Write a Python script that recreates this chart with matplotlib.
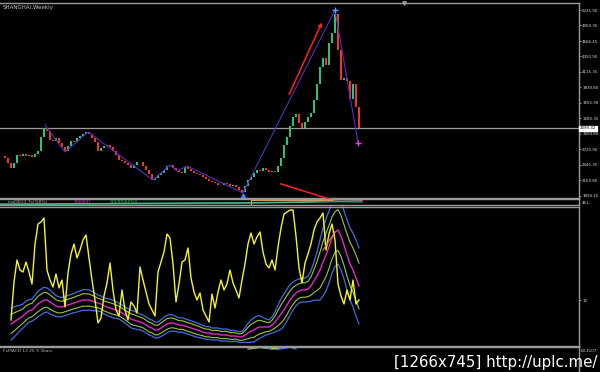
import numpy as np
import matplotlib
matplotlib.use("Agg")
import matplotlib.pyplot as plt
from matplotlib.transforms import blended_transform_factory

# ---------------- data ----------------
closes = [2600, 2568, 2470, 2390, 2480, 2620, 2600, 2640, 2610, 2625,
          2590, 2640, 2690, 2950, 3110, 3060, 2900, 2880, 2920, 2840,
          2760, 2690, 2780, 2880, 2860, 2930, 2960, 2990, 3040, 3000,
          2920, 2850, 2700, 2740, 2790, 2810, 2760, 2700, 2620, 2540,
          2520, 2480, 2450, 2390, 2440, 2500, 2490, 2420, 2350, 2280,
          2180, 2200, 2260, 2290, 2360, 2420, 2440, 2380, 2350, 2320,
          2300, 2400, 2370, 2330, 2300, 2280, 2260, 2230, 2190, 2160,
          2140, 2110, 2085, 2090, 2120, 2100, 2060, 2080, 2040, 1990,
          1960, 2060, 2170, 2220, 2300, 2350, 2330, 2380, 2350, 2320,
          2340, 2310, 2420, 2560, 2800, 2950, 3150, 3300, 3360, 3200,
          3110, 3220, 3300, 3380, 3610, 3900, 4200, 4360, 4240, 4630,
          4810, 5150, 4500, 3970, 4000, 3950, 3620, 3900, 3480, 3100]

price_ticks = [5225.90, 4950.35, 4666.45, 4390.90, 4115.35, 3839.80, 3555.90,
               3280.35, 3004.80, 2720.90, 2445.35, 2169.80, 1894.25]
last_price = 3099.32

zz_x = [14.3, 21, 28.7, 50.3, 56, 58.3, 61.7, 80.3, 111, 118.7]
zz_p = [3161, 2676, 3035, 2173, 2442, 2334, 2424, 1939, 5226, 2837]

nan = np.nan
yellow = [nan, nan, nan, 27, 36.5, 42, 39.5, 39, 41.5, 39,
          36, 46, 51, 51.5, 52.5, 39.5, 37, 35.25, 38.5, 35,
          37, 30.25, 38.75, 43.5, 46, 42.5, 44.5, 47, 48.25, 42.5,
          37, 32, 26.25, 27.5, 33, 36.25, 41.25, 34.5, 29.5, 28,
          34.5, 29.5, 27, 31.5, 30.5, 28.75, 40.25, 37, 34, 31,
          29.5, 28, 39, 41.5, 44, 48.5, 47.5, 41, 31.5, 36,
          41.5, 42, 45, 37.5, 34, 32, 33.75, 29.5, 28, 26.5,
          33.5, 30, 34, 37, 34.5, 36, 39.5, 36.25, 34.5, 32.5,
          37, 41, 46, 48.75, 46, 47.75, 49, 44, 41, 40,
          42, 39.5, 45.25, 50, 53.5, 54, 54.5, 54.5, 48, 40,
          36.25, 41.25, 43.5, 46, 49.5, 51.5, 52.5, 53.75, 44.5, 48.5,
          51, 47, 36, 33, 31, 34.5, 32, 37, 31, 32]

mid = [nan, nan, nan, 26, 26.5, 27, 27.5, 28, 28.75, 29.25,
       29.5, 30.25, 31, 31.5, 32, 32, 31.5, 31, 30.5, 30.25,
       30.25, 30.5, 30.75, 31, 31.25, 31.5, 31.75, 32, 32, 32,
       31.75, 31.5, 31.25, 31, 30.5, 30.25, 30, 29.75, 29.5, 29.25,
       28.75, 28.25, 27.75, 27.25, 27, 26.75, 26.5, 26.25, 25.75, 25.25,
       25, 24.5, 24.5, 25, 25.5, 26, 26.25, 26.25, 26, 25.75,
       25.75, 25.5, 25.25, 25, 24.75, 24.5, 24.25, 24, 23.75, 23.75,
       23.5, 23.5, 23.5, 23.25, 23.25, 23.25, 23, 23, 23, 22.75,
       22.75, 23.25, 23.75, 24.25, 24.5, 25, 25.25, 25.25, 25.25, 25.25,
       25.75, 26.5, 27.5, 28.5, 29.5, 30.75, 32, 33, 33.75, 34.25,
       34.5, 34.5, 34.75, 35.5, 36.75, 38, 39.5, 41.5, 43.25, 45.25,
       47.5, 49, 49.5, 48, 45.75, 43.25, 41, 39.5, 37.5, 35.5]

width = [nan, nan, nan, 4, 3.8, 3.5, 3.2, 3, 3, 2.8,
         2.8, 3, 3.2, 3.2, 3.2, 3, 3, 2.8, 2.6, 2.5,
         2.4, 2.4, 2.4, 2.4, 2.4, 2.5, 2.5, 2.6, 2.6, 2.5,
         2.4, 2.2, 2.0, 2.0, 2.0, 2.1, 2.2, 2.2, 2.1, 2.0,
         2.0, 2.0, 2.1, 2.2, 2.2, 2.1, 2.0, 2.0, 2.0, 2.0,
         2.0, 2.0, 2.0, 2.1, 2.2, 2.2, 2.1, 2.0, 1.9, 1.8,
         1.8, 1.8, 1.8, 1.8, 1.8, 1.8, 1.7, 1.6, 1.6, 1.6,
         1.5, 1.5, 1.5, 1.5, 1.5, 1.5, 1.4, 1.4, 1.3, 1.3,
         1.4, 1.8, 2.4, 2.8, 3.0, 3.0, 2.8, 2.4, 2.0, 1.8,
         2.0, 2.5, 3.2, 3.8, 4.0, 4.0, 3.8, 3.5, 3.2, 3.0,
         3.0, 3.0, 3.2, 3.8, 4.8, 6.0, 7.5, 8.5, 9.0, 9.0,
         8.8, 8.5, 8.5, 8.5, 8.5, 8.8, 9.0, 9.2, 9.5, 9.5]

strip_x = [-1, 40, 80, 100, 113, 120]
strip_green = [0.15, 0.25, 0.35, 0.5, 0.85, 0.8]
strip_teal = [0.2, 0.3, 0.38, 0.45, 0.55, 0.5]
pink_x = [83, 100, 113, 120]
pink_y = [0.82, 0.82, 0.88, 0.8]
orange_x = [83, 83, 110]
orange_y = [0.1, 0.85, 0.85]

# ---------------- figure ----------------
W, H = 600, 372
fig = plt.figure(figsize=(6, 3.72), dpi=100, facecolor="black")

def px_axes(x0, y0, x1, y1):
    return fig.add_axes([x0 / W, 1 - y1 / H, (x1 - x0) / W, (y1 - y0) / H])

GRAY = "#9a9a9a"
LBL = "#d8d8d8"
FS = 2.9
xlim = (-2 / 3, (579 - 2) / 3)

def style(ax):
    ax.set_facecolor("black")
    ax.spines["left"].set_visible(False)
    for s in ["top", "right", "bottom"]:
        ax.spines[s].set_color(GRAY)
        ax.spines[s].set_linewidth(1.0)
    ax.set_xticks([])
    ax.set_xlim(*xlim)
    ax.tick_params(axis="y", which="both", left=False, labelleft=False,
                   right=True, labelright=True, colors=GRAY, labelcolor=LBL,
                   labelsize=FS, length=1.5, width=0.6, pad=0.8)

# ---- price panel ----
ax = px_axes(0, 3, 579, 197.5)
style(ax)
ax.set_ylim(5225.9 - 187.5 * 17.96, 5225.9 + 7 * 17.96)
ax.set_yticks(price_ticks)
ax.set_yticklabels([f"{p:.2f}" for p in price_ticks])

idx = np.arange(len(closes))
c = np.array(closes, dtype=float)
o = np.concatenate([[c[0]], c[:-1]])
up = c >= o
ax.bar(idx[up], (c - o)[up], bottom=o[up], width=0.7, color="#24c47e", linewidth=0)
ax.bar(idx[~up], (c - o)[~up], bottom=o[~up], width=0.7, color="#f0381e", linewidth=0)

ax.axhline(last_price, color=GRAY, lw=0.9, zorder=0)
tr = blended_transform_factory(ax.transAxes, ax.transData)
ax.text(1.002, last_price, f"{last_price:.2f}", transform=tr, fontsize=FS,
        color="black", va="center", ha="left",
        bbox=dict(boxstyle="square,pad=0.2", fc="white", ec="white"), clip_on=False)

ax.plot(zz_x, zz_p, color="#5b2cc0", lw=0.8)
ax.plot([80.3], [1880], marker="^", color="#3a8cff", ms=3.5)
ax.plot([111], [5226], marker="+", color="#4aa8ff", ms=5, mew=1)
ax.plot([118.7], [2837], marker="+", color="#e040e0", ms=5, mew=1)

ax.annotate("", xy=(107, 5046), xytext=(95.3, 3663),
            arrowprops=dict(arrowstyle="-|>", color="#ff2020", lw=1.1,
                            mutation_scale=5))
ax.annotate("", xy=(113.3, 1760), xytext=(92, 2119), annotation_clip=False,
            arrowprops=dict(arrowstyle="-|>", color="#ff2020", lw=1.1,
                            mutation_scale=5))
ax.plot([134], [1.0], marker="v", color=GRAY, ms=2.5,
        transform=blended_transform_factory(ax.transData, ax.transAxes), clip_on=False)
fig.text(3 / W, 1 - 7.5 / H, "SHANGHAI,Weekly", color="#c8c8c8", fontsize=4,
         va="center", ha="left")

# ---- indicator strip ----
axs = px_axes(0, 198.5, 579, 205.5)
style(axs)
axs.set_ylim(0, 1)
axs.set_yticks([])
axs.plot(strip_x, strip_green, color="#1fa34a", lw=1.2)
axs.plot(strip_x, strip_teal, color="#4fb8a0", lw=0.8)
axs.plot(pink_x, pink_y, color="#e070a0", lw=1.2)
axs.plot(orange_x, orange_y, color="#e0a040", lw=0.8)
axs.text(2, 0.45, "iusDEG3 7s(%0%)", color="#b0b0b0", fontsize=3.2, va="center")
axs.text(24, 0.45, "2(0060)", color="#d040d0", fontsize=3.2, va="center")
axs.text(36, 0.45, "0(0/99)60%0", color="#40c060", fontsize=3.2, va="center")
fig.text(582 / W, 1 - 203 / H, "46.L", color=LBL, fontsize=FS, va="center")

# ---- main indicator ----
axi = px_axes(0, 206.5, 579, 346)
style(axi)
axi.set_ylim(32 + (300 - 346) / 4, 32 + (300 - 206.5) / 4)
axi.set_yticks([32])
axi.set_yticklabels(["32"])
m = np.array(mid, dtype=float)
w = np.array(width, dtype=float)
axi.plot(idx, m + w, color="#3f6fe0", lw=0.9)
axi.plot(idx, m - w, color="#3f6fe0", lw=0.9)
axi.plot(idx, m + 0.6 * w, color="#9cc83a", lw=0.8)
axi.plot(idx, m - 0.6 * w, color="#9cc83a", lw=0.8)
axi.plot(idx, m, color="#e02ac8", lw=1.0)
axi.plot(idx, yellow, color="#f4f42a", lw=1.0)
axi.plot([107, 111], [44.5, 49], color="#f08030", lw=0.8)

# ---- bottom panel ----
axb = px_axes(0, 346.5, 579, 372)
style(axb)
axb.spines["bottom"].set_visible(False)
axb.set_ylim(0, 1)
axb.set_yticks([])
axb.plot([82, 86, 90, 93], [0.9, 0.96, 0.9, 0.97], color="#9cc83a", lw=0.9)
axb.plot([88, 92, 96, 98], [0.95, 0.88, 0.97, 0.9], color="#3f6fe0", lw=0.9)
axb.plot([90, 94], [0.93, 0.97], color="#f4f42a", lw=0.9)
fig.text(3 / W, 1 - 351 / H, "FxMACD 12 26 9 3bars", color="#b0b0b0",
         fontsize=3.2, va="center")
fig.text(581 / W, 1 - 350.5 / H, "63.4107", color=LBL, fontsize=FS, va="center")
fig.text(597 / W, 1 - 362 / H, "[1266x745] http://uplc.me/", color="white",
         fontsize=10.8, va="center", ha="right")

fig.savefig("out.png", dpi=100, facecolor="black")
